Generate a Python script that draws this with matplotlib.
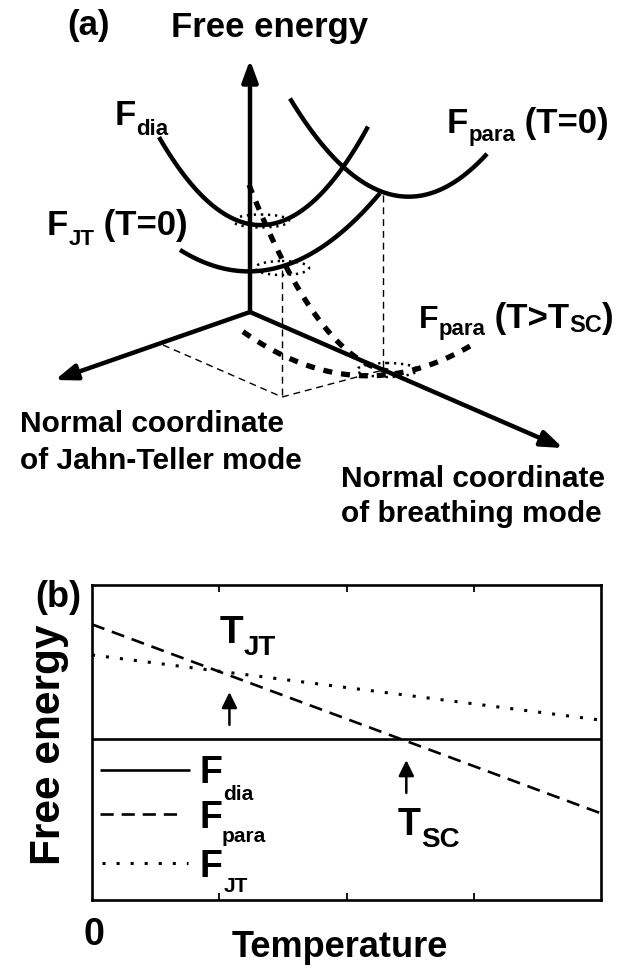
import numpy as np
import matplotlib
matplotlib.use("Agg")
import matplotlib.pyplot as plt
from matplotlib.patches import Ellipse

plt.rcParams['font.family'] = ['Liberation Sans', 'DejaVu Sans']
plt.rcParams['font.weight'] = 'bold'

# ---------------- Panel (a): schematic (px, y down)
axis_origin = (250, 312)
fe_axis_tip = (250, 60)
jt_axis_tip = (55, 380)
br_axis_tip = (563, 448)

f_dia_x = [159, 196, 251, 339, 368]
f_dia_y = [138, 187, 227, 170, 128]
f_para0_x = [290, 340, 398, 487]
f_para0_y = [98, 165, 195, 154]
f_jt0_x = [180, 251, 313, 380]
f_jt0_y = [250, 271, 253, 193]
f_paraT_jt_x = [249, 257, 272, 298, 313, 327, 342, 353, 388]
f_paraT_jt_y = [180, 208, 240, 290, 312, 330, 343, 353, 373]
f_paraT_br_x = [243, 262, 282, 300, 318, 337, 355, 380, 400, 418, 452, 475]
f_paraT_br_y = [328, 345, 357, 366, 371, 373, 372, 372, 372, 370, 357, 343]

trough_cx = [261, 282, 387]
trough_cy = [221, 268, 370]
trough_w = [56, 54, 60]
trough_h = [13, 14, 14]

drop_x = [[383, 383], [282, 282], [163, 282], [282, 383]]
drop_y = [[195, 370], [270, 397], [345, 397], [397, 370]]

# ---------------- Panel (b) data
temperature = [0, 4]
f_dia_b = [5.1, 5.1]
f_para_b = [8.75, 2.75]
f_jt_b = [7.78, 5.71]
t_jt = 1.08
t_sc = 2.47

W, H = 636, 971
fig = plt.figure(figsize=(W / 100, H / 100), dpi=100)
fig.patch.set_facecolor('white')

# panel (b) axes
axb = fig.add_axes([92 / W, (H - 900) / H, 509 / W, 315 / H])
axb.set_xlim(0, 4)
axb.set_ylim(0, 10)
axb.plot(temperature, f_dia_b, color='k', lw=1.9, solid_capstyle='butt')
axb.plot(temperature, f_para_b, color='k', lw=1.9, dashes=(5.0, 3.0))
axb.plot(temperature, f_jt_b, color='k', lw=2.2, dashes=(1.0, 3.6))
axb.set_xticks([1, 2, 3])
axb.set_xticklabels([])
axb.set_yticks([])
axb.tick_params(axis='x', direction='in', length=5, width=1.3, top=True, bottom=True)
for s in axb.spines.values():
    s.set_linewidth(1.9)
arr_b = dict(arrowstyle='-|>,head_length=0.63,head_width=0.31', lw=1.8, color='k',
             mutation_scale=15, shrinkA=0, shrinkB=0)
axb.annotate('', xy=(t_jt, 6.6), xytext=(t_jt, 5.56), arrowprops=arr_b)
axb.annotate('', xy=(t_sc, 4.44), xytext=(t_sc, 3.40), arrowprops=arr_b)

# overlay axes in pixel coordinates
ax = fig.add_axes([0, 0, 1, 1])
ax.set_xlim(0, W)
ax.set_ylim(H, 0)
ax.axis('off')
ax.patch.set_alpha(0)

arr_a = dict(arrowstyle='-|>,head_length=0.65,head_width=0.24', lw=3.2, color='k',
             mutation_scale=20, shrinkA=0, shrinkB=0)
for tip in (fe_axis_tip, jt_axis_tip, br_axis_tip):
    ax.annotate('', xy=tip, xytext=axis_origin, arrowprops=arr_a)


def smooth(xs, ys, n=120):
    c = np.polyfit(xs, ys, 2)
    xx = np.linspace(min(xs), max(xs), n)
    return xx, np.polyval(c, xx)


for xs, ys in ((f_dia_x, f_dia_y), (f_para0_x, f_para0_y), (f_jt0_x, f_jt0_y)):
    xx, yy = smooth(xs, ys)
    ax.plot(xx, yy, color='k', lw=3.2, solid_capstyle='butt')

for xs, ys in ((f_paraT_jt_x, f_paraT_jt_y), (f_paraT_br_x, f_paraT_br_y)):
    xx, yy = smooth(xs, ys)
    ax.plot(xx, yy, color='k', lw=3.8, dashes=(1.7, 1.7))

for cx, cy, w, h in zip(trough_cx, trough_cy, trough_w, trough_h):
    ax.add_patch(Ellipse((cx, cy), w, h, fill=False, lw=1.8, ec='k',
                         linestyle=(0, (0.9, 1.9))))

for xs, ys in zip(drop_x, drop_y):
    ax.plot(xs, ys, color='k', lw=1.0, dashes=(5, 3.5))

renderer = fig.canvas.get_renderer()


def chain(x, y, pieces):
    for s, size, dy in pieces:
        t = ax.text(x, y + dy, s, fontsize=size, fontweight='bold', ha='left',
                    va='baseline')
        x += t.get_window_extent(renderer=renderer).width


# panel (a) texts
ax.text(67, 35, '(a)', fontsize=25, ha='left', va='baseline')
ax.text(270, 37, 'Free energy', fontsize=25, ha='center', va='baseline')
chain(115, 125, [('F', 25, 0), ('dia', 16, 10)])
chain(447, 133, [('F', 25, 0), ('para', 16, 8), (' (T=0)', 25, 0)])
chain(47, 235, [('F', 25, 0), ('JT', 16, 10), (' (T=0)', 25, 0)])
chain(419, 328, [('F', 23, 0), ('para', 16, 7), (' (T>T', 25, 0), ('SC', 17, 4), (')', 25, 0)])
ax.text(20, 432, 'Normal coordinate', fontsize=21.5, ha='left', va='baseline')
ax.text(20, 469, 'of Jahn-Teller mode', fontsize=21.5, ha='left', va='baseline')
ax.text(341, 487, 'Normal coordinate', fontsize=21.5, ha='left', va='baseline')
ax.text(341, 522, 'of breathing mode', fontsize=21.5, ha='left', va='baseline')

# panel (b) texts
ax.text(35, 607, '(b)', fontsize=26, ha='left', va='baseline')
chain(220, 643, [('T', 28, 0), ('JT', 20, 12)])
chain(398, 835, [('T', 27, 0), ('SC', 20, 12)])
ax.text(94, 945, '0', fontsize=27, ha='center', va='baseline')
ax.text(340, 957, 'Temperature', fontsize=26, ha='center', va='baseline')
ax.text(49, 745, 'Free energy', fontsize=30.5, rotation=90, ha='center', va='center')

# legend
ax.plot([100, 190], [770, 770], color='k', lw=1.9, solid_capstyle='butt')
ax.plot([100, 182], [814, 814], color='k', lw=1.9, dashes=(5.0, 3.0))
ax.plot([102, 188], [863, 863], color='k', lw=2.2, dashes=(1.0, 3.6))
ax.text(200, 783, 'F', fontsize=27, ha='left', va='baseline')
ax.text(223, 800, 'dia', fontsize=15, ha='left', va='baseline')
ax.text(200, 828, 'F', fontsize=27, ha='left', va='baseline')
ax.text(222, 842, 'para', fontsize=15, ha='left', va='baseline')
ax.text(200, 877, 'F', fontsize=27, ha='left', va='baseline')
ax.text(224, 892, 'JT', fontsize=15, ha='left', va='baseline')

fig.savefig('out.png', dpi=100, facecolor='white')
